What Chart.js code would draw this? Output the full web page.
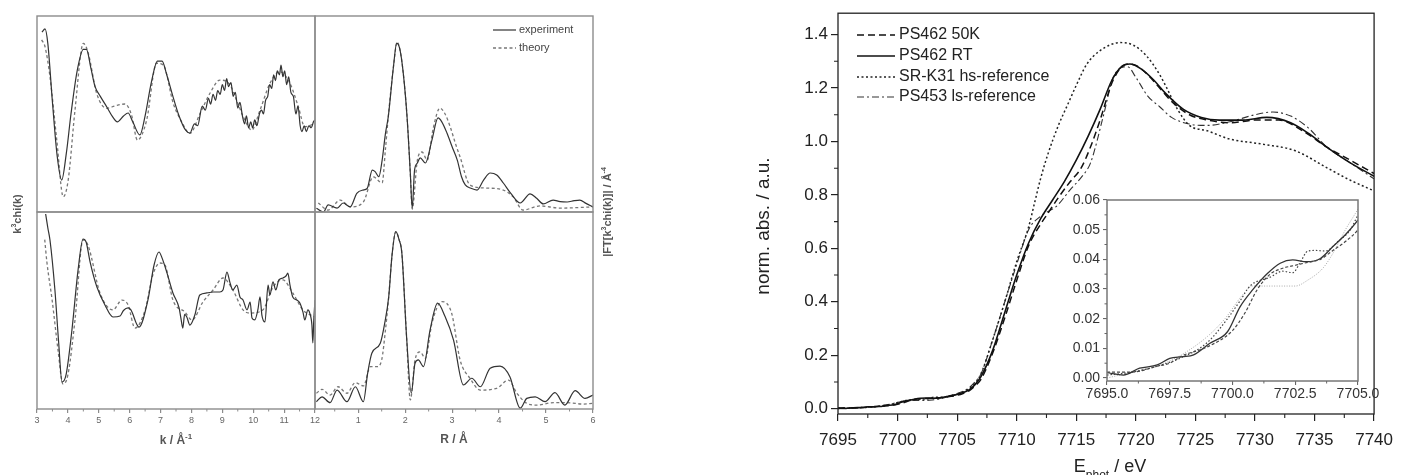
<!DOCTYPE html>
<html lang="en">
<head>
<meta charset="UTF-8" />
<title>EXAFS fits and Fe K-edge XANES</title>
<script src="https://cdn.jsdelivr.net/npm/chart.js"></script>
<style>
  body { margin: 0; background: #fff; }
  .wrap { position: relative; width: 1402px; height: 475px; overflow: hidden; }
  .wrap canvas { position: absolute; left: 0; top: 0; }
</style>
</head>
<body>
<div class="wrap">
  <canvas id="chiTop" width="1402" height="475"></canvas>
  <canvas id="ftTop" width="1402" height="475"></canvas>
  <canvas id="chiBottom" width="1402" height="475"></canvas>
  <canvas id="ftBottom" width="1402" height="475"></canvas>
  <canvas id="xanes" width="1402" height="475"></canvas>
  <canvas id="xanesInset" width="1402" height="475"></canvas>
</div>
<script>
// ---------- EXAFS, k space (arbitrary units, 0..10) ----------
const kTicks = [3, 4, 5, 6, 7, 8, 9, 10, 11, 12];
const kMinor = [3.5, 4.5, 5.5, 6.5, 7.5, 8.5, 9.5, 10.5, 11.5];

const kTopExp = [3.16, 3.26, 3.35, 3.5, 3.65, 3.8, 3.95, 4.1, 4.3, 4.5, 4.6, 4.75, 4.88, 5.05, 5.26, 5.45, 5.6, 5.8, 5.95, 6.1, 6.33, 6.5, 6.7, 6.9, 7.05, 7.2, 7.4, 7.6, 7.8, 7.95, 8.1, 8.2, 8.35, 8.45, 8.55, 8.62, 8.7, 8.78, 8.85, 8.93, 9.0, 9.07, 9.14, 9.2, 9.28, 9.35, 9.42, 9.5, 9.57, 9.65, 9.72, 9.78, 9.85, 9.92, 9.98, 10.05, 10.12, 10.2, 10.27, 10.33, 10.4, 10.47, 10.53, 10.6, 10.66, 10.72, 10.78, 10.85, 10.9, 10.96, 11.02, 11.08, 11.15, 11.22, 11.3, 11.38, 11.45, 11.52, 11.58, 11.65, 11.72, 11.8, 11.88, 11.95, 12.0];
const chiTopExp = [9.18, 9.34, 8.6, 5.6, 2.9, 1.63, 3.0, 5.0, 7.2, 8.3, 8.3, 7.3, 6.4, 5.9, 5.36, 4.85, 4.6, 4.9, 5.05, 4.6, 3.93, 4.9, 6.6, 7.7, 7.7, 7.0, 5.9, 4.9, 4.2, 4.03, 4.5, 4.4, 5.4, 5.2, 5.8, 5.5, 6.0, 5.7, 6.2, 6.0, 6.5, 6.2, 6.8, 6.4, 6.6, 5.9, 6.1, 5.3, 5.6, 4.9, 4.5, 4.9, 4.3, 4.6, 4.3, 4.7, 4.4, 5.0, 5.2, 5.0, 5.7, 5.9, 6.5, 6.3, 7.0, 6.7, 7.2, 7.0, 7.5, 6.9, 7.2, 6.5, 6.9, 6.1, 5.9, 5.0, 5.4, 4.4, 4.1, 4.4, 4.1, 4.4, 4.3, 4.6, 4.7];
const kTopTh = [3.15, 3.26, 3.42, 3.64, 3.85, 4.01, 4.23, 4.5, 4.66, 4.93, 5.26, 5.52, 5.85, 6.06, 6.25, 6.55, 6.87, 7.09, 7.41, 7.68, 7.95, 8.28, 8.6, 8.92, 9.25, 9.46, 9.68, 9.95, 10.22, 10.54, 10.86, 11.19, 11.46, 11.67, 12.0];
const chiTopTh = [8.78, 8.43, 6.9, 3.67, 0.78, 1.63, 5.2, 8.6, 8.1, 6.06, 5.29, 5.41, 5.51, 4.95, 3.67, 4.69, 7.59, 7.5, 5.55, 4.61, 4.01, 5.03, 6.06, 6.73, 6.48, 5.71, 4.86, 4.18, 5.2, 6.56, 7.16, 6.56, 5.37, 4.35, 4.52];

const kBotExp = [3.28, 3.35, 3.42, 3.58, 3.7, 3.81, 3.94, 4.13, 4.33, 4.49, 4.59, 4.72, 4.94, 5.2, 5.46, 5.69, 5.8, 5.95, 6.04, 6.3, 6.59, 6.79, 6.95, 7.05, 7.21, 7.4, 7.6, 7.66, 7.72, 7.78, 7.85, 7.95, 8.11, 8.27, 8.5, 8.7, 8.92, 9.02, 9.15, 9.25, 9.34, 9.47, 9.57, 9.67, 9.8, 9.9, 9.96, 10.05, 10.15, 10.22, 10.28, 10.38, 10.48, 10.54, 10.64, 10.73, 10.83, 10.96, 11.06, 11.12, 11.19, 11.28, 11.41, 11.51, 11.61, 11.67, 11.77, 11.83, 11.9, 11.93, 11.96, 12.0];
const chiBotExp = [9.9, 9.2, 8.58, 6.04, 3.4, 1.37, 1.73, 4.0, 7.06, 8.63, 8.48, 7.46, 6.19, 5.28, 4.67, 4.72, 5.0, 5.13, 5.03, 4.16, 5.53, 7.31, 7.97, 7.66, 6.9, 5.89, 5.13, 4.6, 4.11, 4.8, 4.67, 4.26, 4.77, 5.79, 5.89, 5.94, 5.94, 6.04, 6.95, 6.4, 6.04, 6.29, 5.69, 5.53, 5.03, 5.43, 4.62, 4.52, 5.03, 5.69, 4.77, 4.42, 6.29, 5.79, 6.45, 6.04, 6.55, 6.65, 6.75, 6.9, 6.29, 5.69, 5.53, 5.38, 4.92, 4.52, 5.03, 4.87, 4.26, 3.35, 4.5, 5.53];
const kBotTh = [3.25, 3.32, 3.49, 3.68, 3.84, 4.0, 4.23, 4.49, 4.65, 5.04, 5.46, 5.75, 5.95, 6.17, 6.5, 6.75, 6.98, 7.14, 7.4, 7.79, 8.02, 8.37, 8.7, 9.02, 9.34, 9.67, 9.9, 10.31, 10.64, 10.96, 11.28, 11.61, 12.0];
const chiBotTh = [8.6, 7.46, 5.53, 3.0, 1.27, 1.73, 4.52, 8.58, 8.32, 5.89, 5.03, 5.53, 5.28, 4.11, 5.03, 6.8, 7.41, 7.31, 5.53, 4.92, 4.52, 5.43, 6.04, 6.65, 6.04, 5.03, 4.87, 5.03, 6.19, 6.55, 5.89, 5.03, 4.67];

// ---------- EXAFS, R space ----------
const rTicks = [1, 2, 3, 4, 5, 6];
const rMinor = [0.5, 1.5, 2.5, 3.5, 4.5, 5.5];

const rTopExp = [0.11, 0.26, 0.36, 0.55, 0.68, 0.83, 0.97, 1.1, 1.19, 1.3, 1.36, 1.44, 1.51, 1.58, 1.64, 1.75, 1.82, 1.89, 1.96, 2.04, 2.11, 2.15, 2.2, 2.26, 2.32, 2.43, 2.57, 2.7, 2.78, 2.89, 3.0, 3.11, 3.2, 3.28, 3.4, 3.53, 3.67, 3.81, 3.95, 4.09, 4.25, 4.45, 4.66, 4.8, 4.94, 5.15, 5.3, 5.45, 5.6, 5.72, 5.85, 6.0];
const ftTopExp = [0.19, 0.0, 0.36, 0.2, 0.46, 0.26, 0.95, 1.12, 1.2, 2.14, 2.06, 1.8, 2.65, 4.0, 4.85, 7.4, 8.62, 8.27, 7.07, 4.86, 1.97, 0.2, 2.14, 2.5, 2.76, 2.5, 3.67, 4.8, 4.6, 4.03, 3.33, 2.65, 1.8, 1.38, 1.21, 1.12, 1.63, 1.99, 1.89, 1.48, 0.95, 0.46, 0.92, 0.7, 0.41, 0.61, 0.53, 0.51, 0.58, 0.61, 0.44, 0.26];
const rTopTh = [0.15, 0.36, 0.62, 0.83, 1.11, 1.32, 1.51, 1.58, 1.64, 1.75, 1.83, 1.89, 1.96, 2.04, 2.11, 2.15, 2.26, 2.36, 2.47, 2.6, 2.74, 2.85, 2.96, 3.07, 3.17, 3.38, 3.74, 4.09, 4.3, 4.51, 4.87, 5.3, 6.0];
const ftTopTh = [0.46, 0.1, 0.61, 0.26, 0.51, 1.79, 1.48, 3.2, 4.85, 7.4, 8.67, 8.27, 7.07, 4.86, 1.97, 0.15, 2.65, 3.06, 2.65, 4.3, 5.3, 5.0, 4.34, 3.5, 2.8, 1.38, 1.22, 1.12, 0.77, 0.1, 0.31, 0.2, 0.26];

const rBotExp = [0.11, 0.23, 0.4, 0.55, 0.76, 0.94, 1.11, 1.2, 1.29, 1.47, 1.56, 1.65, 1.72, 1.8, 1.87, 1.93, 2.03, 2.13, 2.21, 2.28, 2.39, 2.53, 2.69, 2.85, 3.03, 3.24, 3.42, 3.6, 3.81, 4.02, 4.23, 4.45, 4.59, 4.77, 4.98, 5.19, 5.4, 5.62, 5.83, 6.0];
const ftBotExp = [0.37, 0.62, 0.32, 0.96, 0.37, 1.13, 0.37, 1.8, 2.83, 3.34, 4.3, 5.7, 7.8, 9.0, 8.6, 7.9, 3.67, 0.8, 2.32, 2.49, 2.15, 4.0, 5.37, 4.69, 3.5, 1.22, 1.56, 1.13, 2.07, 2.18, 1.64, 0.04, 0.54, 0.62, 0.37, 0.83, 0.2, 0.93, 0.54, 0.71];
const rBotTh = [0.11, 0.23, 0.4, 0.57, 0.76, 0.94, 1.11, 1.26, 1.4, 1.5, 1.58, 1.65, 1.72, 1.8, 1.87, 1.93, 2.03, 2.11, 2.21, 2.32, 2.43, 2.57, 2.78, 2.99, 3.17, 3.38, 3.6, 3.95, 4.2, 4.38, 4.59, 4.8, 5.16, 5.45, 5.8, 6.0];
const ftBotTh = [0.8, 1.0, 0.71, 1.13, 0.8, 1.34, 1.17, 2.15, 2.15, 2.49, 4.0, 5.7, 7.8, 9.0, 8.6, 7.9, 3.67, 0.46, 2.49, 2.9, 2.57, 4.35, 5.45, 4.86, 2.49, 1.56, 0.96, 1.05, 1.47, 0.8, 0.29, 0.2, 0.32, 0.32, 0.25, 0.29];

// ---------- XANES ----------
const eTicks = [7695, 7700, 7705, 7710, 7715, 7720, 7725, 7730, 7735, 7740];
const eMinor = [7697.5, 7702.5, 7707.5, 7712.5, 7717.5, 7722.5, 7727.5, 7732.5, 7737.5];
const absTicks = [0, 0.2, 0.4, 0.6, 0.8, 1.0, 1.2, 1.4];
const absMinor = [0.1, 0.3, 0.5, 0.7, 0.9, 1.1, 1.3];
const insetETicks = [7695, 7697.5, 7700, 7702.5, 7705];
const insetEMinor = [7696.25, 7698.75, 7701.25, 7703.75];
const insetAbsTicks = [0, 0.01, 0.02, 0.03, 0.04, 0.05, 0.06];
const insetAbsMinor = [0.005, 0.015, 0.025, 0.035, 0.045, 0.055];

const seriesNames = ['PS462 50K', 'PS462 RT', 'SR-K31 hs-reference', 'PS453 ls-reference'];

const e50K = [7695, 7696, 7697, 7697.5, 7698, 7699, 7700, 7700.5, 7701, 7701.5, 7702, 7702.5, 7703, 7703.5, 7704, 7704.5, 7705, 7705.5, 7706, 7706.5, 7707, 7708, 7709, 7710, 7711, 7712, 7712.6, 7713.5, 7714.5, 7715.4, 7716.2, 7717, 7718.1, 7719.3, 7720, 7721, 7722, 7723, 7724.5, 7726, 7728, 7730, 7732, 7734, 7736, 7738, 7740];
const a50K = [0.002, 0.002, 0.004, 0.005, 0.0075, 0.0105, 0.016, 0.022, 0.03, 0.035, 0.037, 0.038, 0.039, 0.04, 0.043, 0.046, 0.05, 0.057, 0.067, 0.085, 0.11, 0.21, 0.34, 0.48, 0.61, 0.69, 0.73, 0.79, 0.85, 0.9, 0.98, 1.08, 1.23, 1.29, 1.285, 1.25, 1.2, 1.15, 1.1, 1.08, 1.07, 1.08, 1.08, 1.04, 0.98, 0.93, 0.88];

const eRT = [7695, 7695.65, 7696.3, 7697, 7697.5, 7698, 7698.45, 7699.1, 7699.8, 7700.3, 7700.8, 7701.4, 7701.9, 7702.4, 7702.95, 7703.5, 7704, 7704.55, 7705, 7705.5, 7706, 7706.5, 7707, 7708, 7709, 7710, 7711, 7712, 7713, 7714, 7715, 7716, 7717, 7718, 7718.8, 7719.5, 7720.5, 7721.5, 7722.5, 7724, 7725.5, 7727, 7729, 7731, 7733, 7734.5, 7736, 7738, 7740];
const aRT = [0.0018, 0.001, 0.0033, 0.0044, 0.0066, 0.0072, 0.0078, 0.0117, 0.0156, 0.024, 0.0297, 0.0353, 0.0387, 0.0398, 0.0392, 0.0403, 0.0443, 0.0488, 0.0533, 0.06, 0.07, 0.09, 0.12, 0.22, 0.36, 0.5, 0.62, 0.71, 0.78, 0.85, 0.93, 1.02, 1.12, 1.23, 1.28, 1.29, 1.27, 1.23, 1.18, 1.12, 1.09, 1.08, 1.08, 1.09, 1.07, 1.03, 0.98, 0.92, 0.87];

const eHS = [7695, 7696, 7697, 7698, 7699, 7699.8, 7700.3, 7700.7, 7701.5, 7702, 7702.4, 7702.7, 7703.0, 7703.3, 7703.7, 7704.2, 7704.7, 7705, 7705.5, 7706, 7706.5, 7707, 7708, 7709, 7710, 7711, 7711.5, 7712, 7712.6, 7713.5, 7714.3, 7715, 7715.9, 7717, 7718.7, 7719.8, 7720.9, 7722, 7722.6, 7723.5, 7724.5, 7726, 7727.8, 7730.6, 7733.4, 7736.1, 7738, 7740];
const aHS = [0.001, 0.002, 0.004, 0.007, 0.012, 0.02, 0.026, 0.031, 0.034, 0.036, 0.0355, 0.039, 0.0428, 0.043, 0.0428, 0.046, 0.05, 0.055, 0.062, 0.075, 0.095, 0.13, 0.26, 0.4, 0.55, 0.68, 0.77, 0.86, 0.95, 1.06, 1.14, 1.21, 1.29, 1.34, 1.37, 1.36, 1.32, 1.25, 1.2, 1.12, 1.06, 1.04, 1.01, 0.99, 0.965, 0.9, 0.855, 0.815];

const eLS = [7695, 7696, 7697, 7698, 7699, 7699.7, 7700.4, 7700.8, 7701.5, 7702, 7702.5, 7703, 7703.6, 7704, 7704.5, 7705, 7705.5, 7706, 7706.5, 7707, 7708, 7709, 7710, 7711, 7712, 7713.4, 7714.5, 7715.5, 7716.2, 7717.3, 7718.1, 7719.3, 7720, 7721, 7722, 7723, 7724.5, 7726, 7728, 7730, 7731.5, 7733, 7734.5, 7736, 7738, 7740];
const aLS = [0.0, 0.002, 0.004, 0.008, 0.014, 0.02, 0.028, 0.031, 0.031, 0.031, 0.031, 0.033, 0.037, 0.042, 0.05, 0.057, 0.065, 0.078, 0.1, 0.13, 0.26, 0.4, 0.54, 0.67, 0.72, 0.76, 0.82, 0.87, 0.92, 1.1, 1.24, 1.28, 1.24, 1.17, 1.13, 1.09, 1.065, 1.06, 1.075, 1.1, 1.11, 1.095, 1.05, 0.98, 0.92, 0.86];

// ---------- helpers ----------
const W = 1402, H = 475;
const FONT = "'Liberation Sans', Arial, Helvetica, sans-serif";

const pts = (xs, ys) => xs.map((x, i) => ({ x: x, y: ys[i] }));

function line(xs, ys, style) {
  return Object.assign({
    data: pts(xs, ys), pointRadius: 0, fill: false,
    cubicInterpolationMode: 'monotone', borderJoinStyle: 'round'
  }, style);
}

function drawRich(ctx, segs, x, y, o) {
  ctx.save();
  ctx.translate(x, y);
  if (o.rot) ctx.rotate(o.rot);
  ctx.fillStyle = o.color;
  ctx.textBaseline = 'middle';
  ctx.textAlign = 'left';
  const fontFor = s => (o.weight || 'normal') + ' ' + ((s.sup || s.sub) ? Math.round(o.size * 0.65) : o.size) + 'px ' + FONT;
  let total = 0;
  segs.forEach(s => { ctx.font = fontFor(s); total += ctx.measureText(s.t).width; });
  let cx = -total / 2;
  segs.forEach(s => {
    ctx.font = fontFor(s);
    const dy = s.sup ? -o.size * 0.35 : (s.sub ? o.size * 0.5 : 0);
    ctx.fillText(s.t, cx, dy);
    cx += ctx.measureText(s.t).width;
  });
  ctx.restore();
}

function minorTicks(chart, xs, ys, len, color, width) {
  const ctx = chart.ctx, a = chart.chartArea;
  ctx.save();
  ctx.strokeStyle = color;
  ctx.lineWidth = width;
  ctx.beginPath();
  (xs || []).forEach(v => {
    const px = chart.scales.x.getPixelForValue(v);
    ctx.moveTo(px, a.bottom); ctx.lineTo(px, a.bottom + len);
  });
  (ys || []).forEach(v => {
    const py = chart.scales.y.getPixelForValue(v);
    ctx.moveTo(a.left - len, py); ctx.lineTo(a.left, py);
  });
  ctx.stroke();
  ctx.restore();
}

function frame(chart, color, width) {
  const ctx = chart.ctx, a = chart.chartArea;
  ctx.save();
  ctx.strokeStyle = color;
  ctx.lineWidth = width;
  ctx.strokeRect(a.left, a.top, a.right - a.left, a.bottom - a.top);
  ctx.restore();
}

// area = [left, top, right, bottom] of the plot box in page pixels
function makeChart(id, area, cfg) {
  const [l, t, r, b] = area;
  const xH = cfg.xAxis ? cfg.xAxis.height : 0;
  const yW = cfg.yAxis ? cfg.yAxis.width : 0;
  const axis = (ax, range, horizontal) => {
    if (!ax) return { type: 'linear', display: false, min: range[0], max: range[1] };
    return {
      type: 'linear', display: true, min: range[0], max: range[1],
      afterFit: s => { if (horizontal) s.height = ax.height; else s.width = ax.width; },
      afterBuildTicks: s => { s.ticks = ax.ticks.map(v => ({ value: v })); },
      grid: { display: true, drawOnChartArea: false, drawTicks: true, tickLength: ax.tickLength, color: ax.color, lineWidth: ax.lineWidth },
      border: { display: false },
      ticks: {
        color: ax.labelColor, padding: ax.padding, maxRotation: 0, autoSkip: false,
        font: { family: FONT, size: ax.size }, callback: ax.format
      }
    };
  };
  return new Chart(document.getElementById(id), {
    type: 'line',
    data: { datasets: cfg.datasets },
    options: {
      responsive: false, animation: false, events: [],
      layout: { padding: { left: l - yW, top: t, right: W - r, bottom: H - b - xH } },
      plugins: { legend: { display: false }, tooltip: { enabled: false } },
      scales: { x: axis(cfg.xAxis, cfg.xRange, true), y: axis(cfg.yAxis, cfg.yRange, false) }
    },
    plugins: [{
      id: 'deco-' + id,
      beforeDraw: c => { if (cfg.before) cfg.before(c); },
      afterDraw: c => { if (cfg.after) cfg.after(c); }
    }]
  });
}

// ---------- left figure: EXAFS ----------
const exColor = '#8c8c8c';
const expStyle = { borderColor: '#333', borderWidth: 1.2 };
const thStyle = { borderColor: '#777', borderWidth: 1.3, borderDash: [3, 2.5] };
const exafsX = (ticks, fmt) => ({
  height: 22, ticks: ticks, tickLength: 4, color: exColor, lineWidth: 1.2,
  labelColor: '#666', padding: 2, size: 9, format: fmt
});

makeChart('chiTop', [37, 16, 315, 212], {
  xRange: [3, 12], yRange: [0, 10],
  datasets: [line(kTopExp, chiTopExp, expStyle), line(kTopTh, chiTopTh, thStyle)],
  after: c => {
    frame(c, exColor, 1.4);
    const ctx = c.ctx;
    drawRich(ctx, [{ t: 'k' }, { t: '3', sup: true }, { t: 'chi(k)' }], 18, 214, { size: 11, weight: 'bold', color: '#555', rot: -Math.PI / 2 });
    drawRich(ctx, [{ t: '|FT[k' }, { t: '3', sup: true }, { t: 'chi(k)]| / Å' }, { t: '-4', sup: true }], 608, 212, { size: 11, weight: 'bold', color: '#555', rot: -Math.PI / 2 });
    drawRich(ctx, [{ t: 'k / Å' }, { t: '-1', sup: true }], 176, 441, { size: 12, weight: 'bold', color: '#555' });
    drawRich(ctx, [{ t: 'R / Å' }], 454, 440, { size: 12, weight: 'bold', color: '#555' });
  }
});

makeChart('ftTop', [315, 16, 593, 212], {
  xRange: [0.08, 6], yRange: [0, 10],
  datasets: [line(rTopExp, ftTopExp, expStyle), line(rTopTh, ftTopTh, thStyle)],
  after: c => {
    frame(c, exColor, 1.4);
    const ctx = c.ctx;
    const rows = [['experiment', expStyle, 30], ['theory', thStyle, 48]];
    ctx.save();
    ctx.font = '11px ' + FONT;
    ctx.textBaseline = 'middle';
    ctx.fillStyle = '#444';
    rows.forEach(([label, st, y]) => {
      ctx.strokeStyle = st.borderColor;
      ctx.lineWidth = st.borderWidth;
      ctx.setLineDash(st.borderDash || []);
      ctx.beginPath(); ctx.moveTo(493, y); ctx.lineTo(516, y); ctx.stroke();
      ctx.fillText(label, 519, y);
    });
    ctx.restore();
  }
});

makeChart('chiBottom', [37, 212, 315, 409], {
  xRange: [3, 12], yRange: [0, 10],
  xAxis: exafsX(kTicks, v => String(v)),
  datasets: [line(kBotExp, chiBotExp, expStyle), line(kBotTh, chiBotTh, thStyle)],
  after: c => { frame(c, exColor, 1.4); minorTicks(c, kMinor, null, 2.5, exColor, 1); }
});

makeChart('ftBottom', [315, 212, 593, 409], {
  xRange: [0.08, 6], yRange: [0, 10],
  xAxis: exafsX(rTicks, v => String(v)),
  datasets: [line(rBotExp, ftBotExp, expStyle), line(rBotTh, ftBotTh, thStyle)],
  after: c => { frame(c, exColor, 1.4); minorTicks(c, rMinor, null, 2.5, exColor, 1); }
});

// ---------- right figure: XANES ----------
const mainStyles = [
  { borderColor: '#111', borderWidth: 1.5, borderDash: [7, 4] },
  { borderColor: '#111', borderWidth: 1.6 },
  { borderColor: '#222', borderWidth: 1.5, borderDash: [2, 2.5] },
  { borderColor: '#333', borderWidth: 1.1, borderDash: [7, 3, 2, 3] }
];
const insetStyles = [
  { borderColor: '#444', borderWidth: 1.2, borderDash: [3, 2] },
  { borderColor: '#333', borderWidth: 1.3 },
  { borderColor: '#444', borderWidth: 1.2, borderDash: [1.5, 2] },
  { borderColor: '#aaa', borderWidth: 1.0, borderDash: [1, 1.5] }
];
const xanesSeries = [[e50K, a50K], [eRT, aRT], [eHS, aHS], [eLS, aLS]];

makeChart('xanes', [838, 13, 1380, 414], {
  xRange: [7695, 7740], yRange: [-0.02, 1.48],
  xAxis: { height: 40, ticks: eTicks, tickLength: 7, color: '#222', lineWidth: 1.2, labelColor: '#222', padding: 9, size: 17, format: v => String(v) },
  yAxis: { width: 60, ticks: absTicks, tickLength: 7, color: '#222', lineWidth: 1.2, labelColor: '#222', padding: 3, size: 17, format: v => v.toFixed(1) },
  datasets: xanesSeries.map((s, i) => line(s[0], s[1], Object.assign({ label: seriesNames[i] }, mainStyles[i]))),
  after: c => {
    frame(c, '#222', 1.3);
    minorTicks(c, eMinor, absMinor, 4, '#222', 1.1);
    const ctx = c.ctx;
    ctx.save();
    ctx.font = '16px ' + FONT;
    ctx.textBaseline = 'middle';
    ctx.fillStyle = '#222';
    [35, 56, 77, 97].forEach((y, i) => {
      const st = mainStyles[i];
      ctx.strokeStyle = st.borderColor;
      ctx.lineWidth = st.borderWidth;
      ctx.setLineDash(st.borderDash || []);
      ctx.beginPath(); ctx.moveTo(857, y); ctx.lineTo(895, y); ctx.stroke();
      ctx.fillText(seriesNames[i], 899, y);
    });
    ctx.restore();
    drawRich(ctx, [{ t: 'norm. abs. / a.u.' }], 764, 226, { size: 19, color: '#222', rot: -Math.PI / 2 });
    drawRich(ctx, [{ t: 'E' }, { t: 'phot', sub: true }, { t: ' / eV' }], 1110, 467, { size: 18, color: '#222' });
  }
});

makeChart('xanesInset', [1107, 200, 1358, 381], {
  xRange: [7695, 7705], yRange: [-0.001, 0.06],
  xAxis: { height: 25, ticks: insetETicks, tickLength: 4, color: '#666', lineWidth: 1.1, labelColor: '#333', padding: 1, size: 14, format: v => v.toFixed(1) },
  yAxis: { width: 60, ticks: insetAbsTicks, tickLength: 4, color: '#666', lineWidth: 1.1, labelColor: '#333', padding: 3, size: 14, format: v => v.toFixed(2) },
  datasets: xanesSeries.map((s, i) => line(s[0], s[1], Object.assign({ label: seriesNames[i] }, insetStyles[i]))),
  before: c => {
    const a = c.chartArea;
    c.ctx.save(); c.ctx.fillStyle = '#fff';
    c.ctx.fillRect(a.left, a.top, a.right - a.left, a.bottom - a.top);
    c.ctx.restore();
  },
  after: c => { frame(c, '#777', 1.5); minorTicks(c, insetEMinor, insetAbsMinor, 2.5, '#666', 1); }
});
</script>
</body>
</html>
